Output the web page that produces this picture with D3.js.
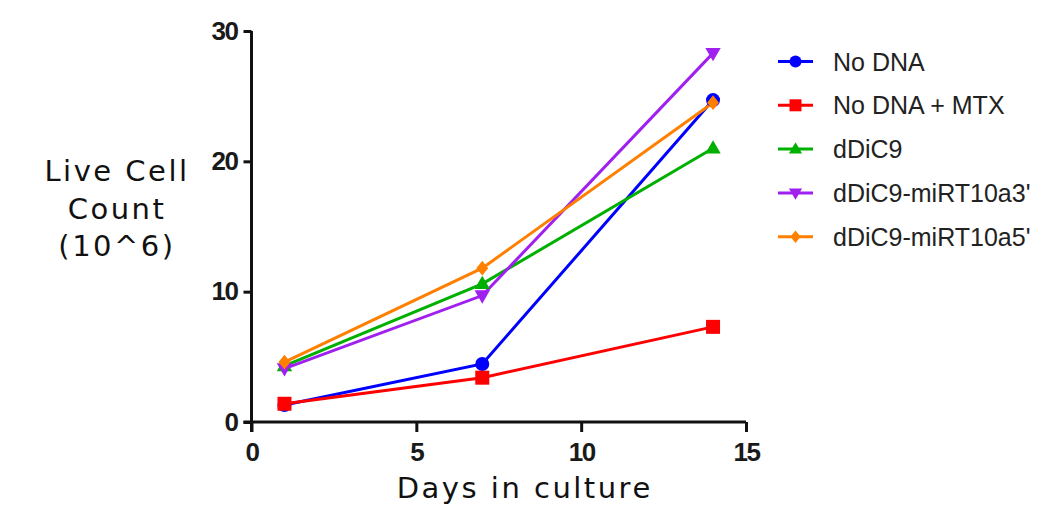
<!DOCTYPE html>
<html>
<head>
<meta charset="utf-8">
<script src="https://cdn.jsdelivr.net/npm/d3@7"></script>
<style>
  body { margin: 0; background: #fff; }
  svg { display: block; }
</style>
</head>
<body>
<div id="chart"></div>
<script>
const days = [1, 7, 14]
const seriesNames = ['No DNA', 'No DNA + MTX', 'dDiC9', 'dDiC9-miRT10a3\'', 'dDiC9-miRT10a5\'']
const noDna = [1.3, 4.45, 24.7]
const noDnaMtx = [1.4, 3.4, 7.3]
const dDiC9 = [4.3, 10.6, 21.0]
const miRT10a3 = [4.1, 9.7, 28.3]
const miRT10a5 = [4.6, 11.8, 24.5]
const colors = ['#0000ff', '#ff0000', '#00b000', '#a020f0', '#ff8000']
const shapes = ['circle', 'square', 'triangle', 'triangleDown', 'diamond']
const xTicks = [0, 5, 10, 15]
const yTicks = [0, 10, 20, 30]

const width = 1049
const height = 509
const margin = { left: 251.5, top: 31, right: 303, bottom: 87 }

const svg = d3.select('#chart')
  .append('svg')
  .attr('width', width)
  .attr('height', height)

const x = d3.scaleLinear().domain([0, 15]).range([margin.left, width - margin.right])
const y = d3.scaleLinear().domain([0, 30]).range([height - margin.bottom, margin.top])

const series = [noDna, noDnaMtx, dDiC9, miRT10a3, miRT10a5].map((vals, i) => ({
  name: seriesNames[i],
  color: colors[i],
  shape: shapes[i],
  points: vals.map((v, j) => ({ day: days[j], value: v }))
}))

// marker path drawn around 0,0
function markerPath(shape, s) {
  if (shape === 'circle') return d3.symbol(d3.symbolCircle, Math.PI * s * s)()
  if (shape === 'square') return `M${-s},${-s}H${s}V${s}H${-s}Z`
  if (shape === 'triangle') return `M0,${-s * 1.15}L${s * 1.1},${s * 0.75}L${-s * 1.1},${s * 0.75}Z`
  if (shape === 'triangleDown') return `M0,${s * 1.15}L${s * 1.1},${-s * 0.75}L${-s * 1.1},${-s * 0.75}Z`
  return `M0,${-s * 1.05}L${s * 0.85},0L0,${s * 1.05}L${-s * 0.85},0Z`
}

// axes
const xAxis = d3.axisBottom(x).tickValues(xTicks).tickSize(10).tickPadding(11)
const yAxis = d3.axisLeft(y).tickValues(yTicks).tickSize(8).tickPadding(6)

const gx = svg.append('g')
  .attr('transform', `translate(0,${y(0)})`)
  .call(xAxis)
gx.select('.domain').attr('d', `M${x(0) - 8},0H${x(15)}`)

const gy = svg.append('g')
  .attr('transform', `translate(${x(0)},0)`)
  .call(yAxis)
gy.select('.domain').attr('d', `M0,${y(0) + 10}V${y(30)}`)

svg.selectAll('.domain, .tick line')
  .attr('stroke', '#111')
  .attr('stroke-width', 3)
svg.selectAll('.tick text')
  .attr('fill', '#1a1a1a')
  .attr('font-family', 'Liberation Sans Narrow, Liberation Sans, Arial, sans-serif')
  .attr('font-weight', 'bold')
  .attr('font-size', 26)
  .attr('letter-spacing', -1.5)
gx.selectAll('.tick text').attr('dy', '0.71em')

// lines
const line = d3.line().x((d) => x(d.day)).y((d) => y(d.value))
svg.append('g')
  .selectAll('path')
  .data(series)
  .join('path')
  .attr('d', (d) => line(d.points))
  .attr('fill', 'none')
  .attr('stroke', (d) => d.color)
  .attr('stroke-width', 3)

// markers
series.forEach((s) => {
  svg.append('g')
    .selectAll('path')
    .data(s.points)
    .join('path')
    .attr('transform', (d) => `translate(${x(d.day)},${y(d.value)})`)
    .attr('d', markerPath(s.shape, 7))
    .attr('fill', s.color)
})

// axis titles
const titleFont = 'DejaVu Sans, sans-serif'
svg.append('text')
  .attr('text-anchor', 'middle')
  .attr('font-family', titleFont)
  .attr('font-size', 29)
  .attr('letter-spacing', 2.5)
  .attr('fill', '#111')
  .selectAll('tspan')
  .data(['Live Cell', 'Count', '(10^6)'])
  .join('tspan')
  .attr('x', 117)
  .attr('y', (d, i) => 181 + i * 37.5)
  .text((d) => d)

svg.append('text')
  .attr('x', (x(0) + x(15)) / 2 + 26)
  .attr('y', 498)
  .attr('text-anchor', 'middle')
  .attr('font-family', titleFont)
  .attr('font-size', 29)
  .attr('letter-spacing', 2.5)
  .attr('fill', '#111')
  .text('Days in culture')

// legend
const legend = svg.append('g')
  .selectAll('g')
  .data(series)
  .join('g')
  .attr('transform', (d, i) => `translate(795.5,${61.5 + i * 43.8})`)

legend.append('line')
  .attr('x1', -17.5)
  .attr('x2', 17.5)
  .attr('stroke', (d) => d.color)
  .attr('stroke-width', 3)
legend.append('path')
  .attr('d', (d) => markerPath(d.shape, 6))
  .attr('fill', (d) => d.color)
legend.append('text')
  .attr('x', 37.5)
  .attr('dy', '0.36em')
  .attr('font-family', 'Liberation Sans, Arial, sans-serif')
  .attr('font-size', 25)
  .attr('fill', '#222')
  .text((d) => d.name)
</script>
</body>
</html>
